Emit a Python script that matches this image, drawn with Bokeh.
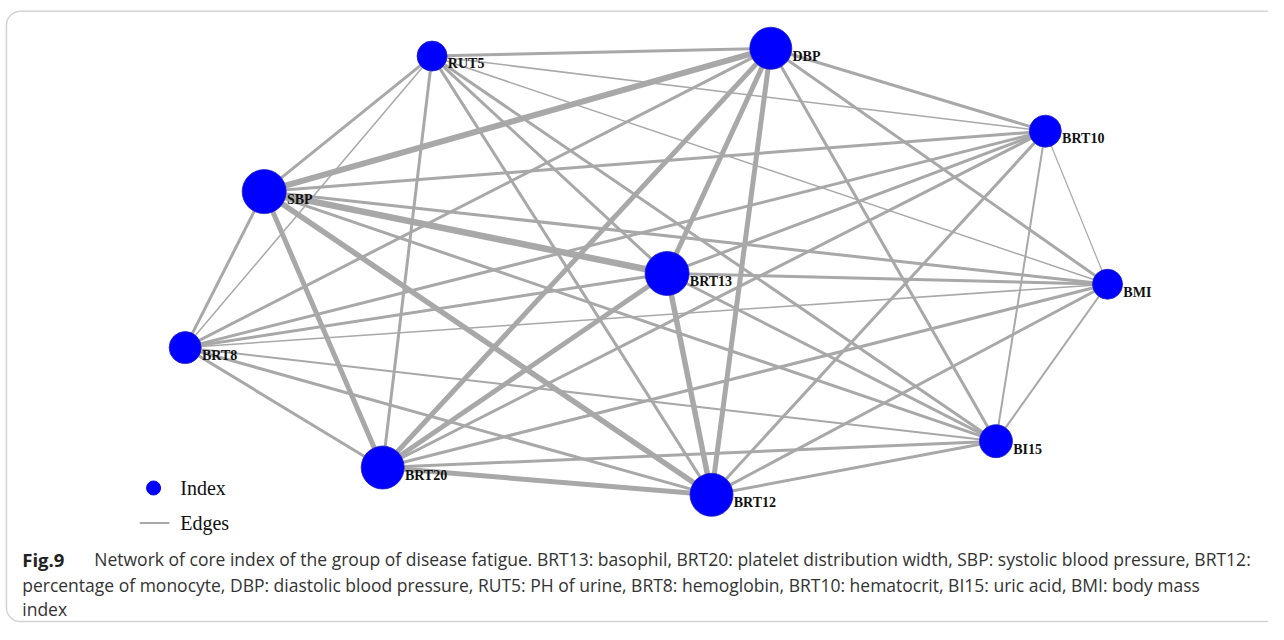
from bokeh.plotting import figure
from bokeh.models import Range1d, BoxAnnotation, ColumnDataSource
from bokeh.core.properties import value
from bokeh.embed import file_html
from bokeh.resources import INLINE

# ---- data ----
nodes = ["RUT5", "DBP", "BRT10", "SBP", "BRT13", "BMI", "BRT8", "BI15", "BRT20", "BRT12"]
node_x = [437, 780, 1058, 267, 675, 1121, 187, 1008, 387, 720]
node_y = [57, 49, 134, 196, 280, 291, 356, 452, 479, 507]
node_diam = [30, 42, 32, 44, 44, 30, 32, 33, 43, 43]

edge_src = ["SBP", "SBP", "SBP", "SBP", "SBP", "SBP", "SBP", "SBP", "SBP",
            "DBP", "DBP", "DBP", "DBP", "DBP", "DBP", "DBP", "DBP",
            "RUT5", "RUT5", "RUT5", "RUT5", "RUT5", "RUT5", "RUT5",
            "BRT10", "BRT10", "BRT10", "BRT10", "BRT10", "BRT10",
            "BMI", "BMI", "BMI", "BMI", "BMI",
            "BI15", "BI15", "BI15", "BI15",
            "BRT12", "BRT12", "BRT12",
            "BRT20", "BRT20",
            "BRT8"]
edge_dst = ["DBP", "RUT5", "BRT10", "BMI", "BI15", "BRT12", "BRT20", "BRT8", "BRT13",
            "RUT5", "BRT10", "BMI", "BI15", "BRT12", "BRT20", "BRT8", "BRT13",
            "BRT10", "BMI", "BI15", "BRT12", "BRT20", "BRT8", "BRT13",
            "BMI", "BI15", "BRT12", "BRT20", "BRT8", "BRT13",
            "BI15", "BRT12", "BRT20", "BRT8", "BRT13",
            "BRT12", "BRT20", "BRT8", "BRT13",
            "BRT20", "BRT8", "BRT13",
            "BRT8", "BRT13",
            "BRT13"]
edge_weight = [6, 3, 3, 3, 3, 5.5, 5, 3, 6.5,
               3, 3, 3, 3, 5, 5, 3, 5,
               1.5, 1.5, 3, 3, 3, 1.5, 3,
               1.2, 2, 3, 3, 3, 3,
               2, 3, 3, 1.5, 3,
               3, 3, 2, 3,
               5, 3, 5.5,
               3, 5,
               3]

caption_bold = "Fig.9"
caption_lines = [
    "Network of core index of the group of disease fatigue. BRT13: basophil, BRT20: platelet distribution width, SBP: systolic blood pressure, BRT12:",
    "percentage of monocyte, DBP: diastolic blood pressure, RUT5: PH of urine, BRT8: hemoglobin, BRT10: hematocrit, BI15: uric acid, BMI: body mass",
    "index",
]
legend_labels = ["Index", "Edges"]

# ---- figure ----
W, H = 1268, 624
p = figure(width=W, height=H, output_backend="svg", toolbar_location=None,
           x_range=Range1d(0, 1284), y_range=Range1d(640, 0),
           min_border=0, outline_line_color=None,
           x_axis_location=None, y_axis_location=None,
           background_fill_color="white", border_fill_color="white")
p.grid.visible = False

# frame border
p.add_layout(BoxAnnotation(left=6, right=1320, top=11, bottom=637,
                           fill_alpha=0, line_color="#6e6e6e", line_width=1.5,
                           border_radius=14))

pos = {n: (x, y) for n, x, y in zip(nodes, node_x, node_y)}
xs = [[pos[a][0], pos[b][0]] for a, b in zip(edge_src, edge_dst)]
ys = [[pos[a][1], pos[b][1]] for a, b in zip(edge_src, edge_dst)]
esrc = ColumnDataSource(dict(xs=xs, ys=ys, w=edge_weight))
p.multi_line(xs="xs", ys="ys", line_width="w", line_color="#a8a8a8", source=esrc)

nsrc = ColumnDataSource(dict(x=node_x, y=node_y, d=node_diam, name=nodes,
                             lx=[x + d / 2 + 1 for x, d in zip(node_x, node_diam)],
                             ly=[y + 8 for y in node_y]))
p.scatter(x="x", y="y", size="d", marker="circle", fill_color="#0000ff",
          line_color="#2020c0", line_width=0.8, source=nsrc)
p.text(x="lx", y="ly", text="name", source=nsrc, text_font=value("Liberation Serif"),
       text_font_size="14px", text_font_style="bold", text_color="#111111",
       text_baseline="middle", text_align="left")

# legend
p.scatter(x=[155], y=[500], size=14, marker="circle", fill_color="#0000ff", line_color="#0000ff")
p.line(x=[141, 171], y=[536, 536], line_color="#a8a8a8", line_width=2)
p.text(x=[182, 182], y=[500, 536], text=legend_labels, text_font=value("Liberation Serif"),
       text_font_size="20px", text_color="#111111", text_baseline="middle")

# caption
p.text(x=[22], y=[573], text=[caption_bold], text_font=value("Open Sans"),
       text_font_size="18.5px", text_font_style="bold", text_color="#222222",
       text_baseline="alphabetic")
p.text(x=[95, 22, 22], y=[573, 599, 624], text=caption_lines, text_font=value("Open Sans"),
       text_font_size="17.5px", text_color="#333333", text_baseline="alphabetic")

open("out.html", "w").write(file_html(p, INLINE))
